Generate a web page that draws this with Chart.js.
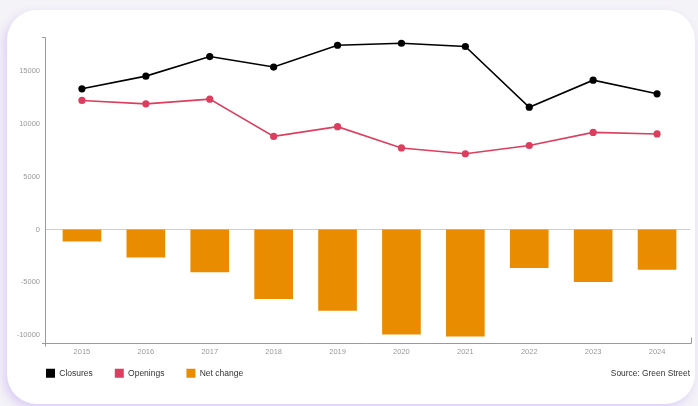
<!DOCTYPE html>
<html>
<head>
<meta charset="utf-8">
<title>Store openings and closures</title>
<script src="https://cdn.jsdelivr.net/npm/chart.js@4"></script>
<style>
  html, body { margin: 0; padding: 0; width: 698px; height: 406px; overflow: hidden; background: #f4f3f7; font-family: "Liberation Sans", Arial, sans-serif; }
  .card { position: absolute; left: 7px; top: 10px; width: 688px; height: 394px; background: #fff; border-radius: 30px; box-shadow: -3px 4px 10px rgba(190, 160, 245, .45); }
  .chart-wrap { position: absolute; left: 0; top: 0; width: 698px; height: 406px; }
  .source { position: absolute; right: 8px; top: 368px; font-size: 8.4px; color: #333; }
</style>
</head>
<body>
<div class="card"></div>
<div class="chart-wrap"><canvas id="storeChart"></canvas></div>
<div class="source">Source: Green Street</div>

<script>
var years = ['2015', '2016', '2017', '2018', '2019', '2020', '2021', '2022', '2023', '2024'];
var closures = [13300, 14500, 16350, 15360, 17420, 17610, 17300, 11560, 14120, 12830];
var openings = [12200, 11880, 12320, 8800, 9720, 7710, 7160, 7940, 9180, 9030];
var netChange = [-1140, -2650, -4040, -6580, -7680, -9940, -10120, -3640, -4970, -3800];
var yTicks = [-10000, -5000, 0, 5000, 10000, 15000];
var yMin = -10700;
var yMax = 18200;

(function () {
  'use strict';

  var axisGrey = '#9a9a9a';
  var font = '"Liberation Sans", Arial, sans-serif';

  // d3-style domain lines plus the zero baseline
  var axisLines = {
    id: 'axisLines',
    beforeDatasetsDraw: function (chart) {
      var ctx = chart.ctx;
      var a = chart.chartArea;
      var x0 = a.left - 5;
      var zeroY = chart.scales.y.getPixelForValue(0);
      ctx.save();
      ctx.lineWidth = 1;
      ctx.strokeStyle = '#cfcfcf';
      ctx.beginPath();
      ctx.moveTo(x0, Math.round(zeroY) + 0.5);
      ctx.lineTo(a.right + 1, Math.round(zeroY) + 0.5);
      ctx.stroke();

      ctx.strokeStyle = axisGrey;
      ctx.beginPath();
      // y axis with outer tick at top
      ctx.moveTo(x0 - 3, a.top + 0.5);
      ctx.lineTo(x0 + 0.5, a.top + 0.5);
      ctx.lineTo(x0 + 0.5, a.bottom + 4);
      // x axis with outer ticks
      ctx.moveTo(x0 - 3, Math.round(a.bottom) + 0.5);
      ctx.lineTo(a.right + 2.5, Math.round(a.bottom) + 0.5);
      ctx.lineTo(a.right + 2.5, a.bottom - 5);
      ctx.stroke();
      ctx.restore();
    }
  };

  // pull the legend up under the year labels and line it up with the y axis
  var legendPlace = {
    id: 'legendPlace',
    afterLayout: function (chart) {
      if (!chart.legend) return;
      chart.legend.left = 24;
      chart.legend.top = chart.chartArea.bottom + 4.2;
    }
  };

  function initChart() {
    var canvas = document.getElementById('storeChart');
    if (!canvas || typeof Chart === 'undefined') return;

    new Chart(canvas.getContext('2d'), {
      type: 'bar',
      data: {
        labels: years,
        datasets: [
          { type: 'line', label: 'Closures', data: closures, borderColor: '#000', backgroundColor: '#000', borderWidth: 1.6, pointRadius: 3.6, pointBackgroundColor: '#000', pointBorderWidth: 0, tension: 0, order: 1 },
          { type: 'line', label: 'Openings', data: openings, borderColor: '#db3e5e', backgroundColor: '#db3e5e', borderWidth: 1.6, pointRadius: 3.6, pointBackgroundColor: '#db3e5e', pointBorderWidth: 0, tension: 0, order: 2 },
          { type: 'bar', label: 'Net change', data: netChange, backgroundColor: '#ea8c00', borderWidth: 0, barPercentage: 0.605, categoryPercentage: 1, order: 3 }
        ]
      },
      options: {
        responsive: true, maintainAspectRatio: false, animation: false,
        layout: { padding: { left: 0, right: 9, top: 37, bottom: 3.4 } },
        plugins: {
          tooltip: { enabled: false },
          legend: {
            position: 'bottom', align: 'start',
            labels: {
              boxWidth: 9, boxHeight: 9, padding: 22, color: '#333',
              font: { family: font, size: 8.5 },
              generateLabels: function (chart) {
                return Chart.defaults.plugins.legend.labels.generateLabels(chart).map(function (item) {
                  item.lineWidth = 0;
                  return item;
                });
              }
            }
          }
        },
        scales: {
          x: {
            offset: true,
            grid: { display: false, drawTicks: false },
            border: { display: false },
            ticks: { color: '#999', padding: 5, font: { family: font, size: 7.5 } }
          },
          y: {
            min: yMin, max: yMax,
            grid: { display: false, drawTicks: false },
            border: { display: false },
            ticks: {
              color: '#999', padding: 10, font: { family: font, size: 7.5 },
              callback: function (v) { return String(v); }
            },
            afterBuildTicks: function (scale) {
              scale.ticks = yTicks.map(function (v) { return { value: v }; });
            },
            afterFit: function (scale) { scale.width = 50; }
          }
        }
      },
      plugins: [axisLines, legendPlace]
    });
  }

  initChart();
})();
</script>
</body>
</html>
